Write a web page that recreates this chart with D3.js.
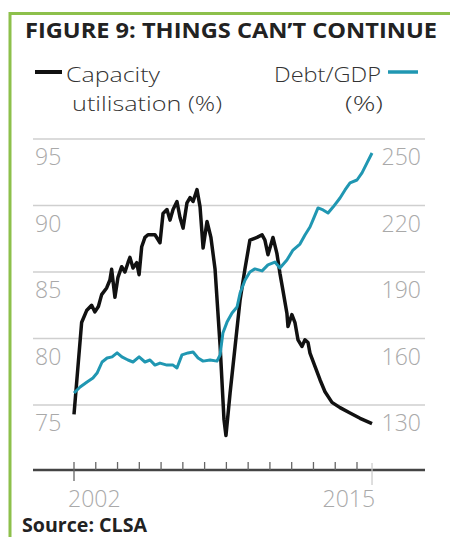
<!DOCTYPE html>
<html><head><meta charset="utf-8">
<script src="https://cdn.jsdelivr.net/npm/d3@7"></script>
<style>html,body{margin:0;padding:0;background:#fff;}svg{display:block;}</style>
</head><body>
<script>
// ---- data ----
const capDates = [2002.00,2002.35,2002.58,2002.81,2002.96,2003.12,2003.27,2003.50,2003.65,2003.73,2003.88,2004.02,2004.19,2004.34,2004.48,2004.57,2004.71,2004.88,2004.99,2005.11,2005.26,2005.40,2005.72,2005.95,2006.09,2006.27,2006.41,2006.55,2006.73,2006.87,2007.01,2007.19,2007.33,2007.47,2007.65,2007.79,2007.93,2008.11,2008.29,2008.48,2008.71,2008.89,2008.98,2009.17,2009.40,2009.63,2009.85,2010.08,2010.41,2010.64,2010.77,2010.91,2011.14,2011.32,2011.46,2011.60,2011.78,2011.83,2012.01,2012.15,2012.29,2012.47,2012.61,2012.75,2012.84,2013.07,2013.30,2013.53,2013.85,2014.22,2014.68,2015.14,2015.69];
const capValues = [74.3,81.2,82.1,82.5,82.0,82.4,83.3,83.8,84.4,85.2,83.1,84.6,85.4,85.0,85.7,86.1,85.3,85.7,84.8,86.9,87.6,87.8,87.8,87.2,89.4,89.7,88.9,89.7,90.3,89.1,88.3,90.2,90.6,90.3,91.2,89.9,86.8,88.8,87.6,85.2,79.5,73.9,72.7,75.9,79.4,82.9,85.2,87.4,87.6,87.8,87.4,86.3,87.6,86.4,84.9,83.6,81.9,80.9,81.8,81.2,79.9,79.4,79.9,79.7,78.9,77.9,76.9,76.0,75.2,74.8,74.4,74.0,73.6];
const debtDates = [2002.00,2002.28,2002.60,2002.87,2003.06,2003.29,2003.52,2003.75,2003.98,2004.20,2004.48,2004.71,2004.99,2005.26,2005.49,2005.72,2005.95,2006.27,2006.55,2006.73,2006.96,2007.24,2007.47,2007.70,2007.93,2008.25,2008.57,2008.71,2008.84,2009.03,2009.26,2009.49,2009.63,2009.86,2010.08,2010.31,2010.64,2010.91,2011.23,2011.46,2011.78,2012.06,2012.38,2012.61,2012.84,2012.98,2013.21,2013.44,2013.67,2013.90,2014.22,2014.45,2014.68,2015.00,2015.23,2015.46,2015.69];
const debtValues = [135.4,138.1,140.4,142.2,144.4,149.4,151.2,151.7,153.5,151.7,150.3,149.4,151.7,149.4,150.3,148.0,148.9,148.0,148.0,146.7,152.6,153.5,153.9,151.2,149.8,150.3,149.8,152.6,162.5,167.4,171.5,174.2,180.5,186.4,190.0,191.4,190.5,193.2,194.5,191.8,195.4,199.9,202.6,206.7,210.3,213.5,218.9,218.0,216.6,219.3,223.4,227.0,230.2,231.5,234.7,239.2,243.7];
const leftTicks = [75, 80, 85, 90, 95];
const rightTicks = [130, 160, 190, 220, 250];
const yearTicks = d3.range(2002, 2016);
const xLabels = ["2002", "2015"];
const title = "FIGURE 9: THINGS CAN\u2019T CONTINUE";
const source = "Source: CLSA";

// ---- layout ----
const W = 450, H = 537;
const svg = d3.select("body").append("svg").attr("width", W).attr("height", H);
const green = "#8dc04b", blue = "#2097b2";

const x = d3.scaleLinear().domain([2002, 2015]).range([74, 357]);
const yL = d3.scaleLinear().domain([75, 95]).range([405, 139]);
const yR = d3.scaleLinear().domain([130, 250]).range([405, 139]);

// frame
svg.append("line").attr("x1", 9).attr("x2", W).attr("y1", 13.5).attr("y2", 13.5).attr("stroke", green).attr("stroke-width", 3);
svg.append("line").attr("x1", 10).attr("x2", 10).attr("y1", 12).attr("y2", H).attr("stroke", green).attr("stroke-width", 3);

// title
svg.append("text").attr("x", 25).attr("y", 38).text(title)
  .attr("font-family", "Open Sans, sans-serif").attr("font-weight", 700).attr("font-size", 22)
  .attr("fill", "#222").attr("textLength", 412).attr("lengthAdjust", "spacingAndGlyphs");

// legend
const lf = "Open Sans, sans-serif";
const legendText = (tx, ty, s, len) => svg.append("text").attr("x", tx).attr("y", ty).text(s)
  .attr("font-family", lf).attr("font-weight", 300).attr("font-size", 21).attr("fill", "#333")
  .attr("textLength", len).attr("lengthAdjust", "spacingAndGlyphs");
svg.append("line").attr("x1", 35).attr("x2", 62).attr("y1", 72).attr("y2", 72).attr("stroke", "#111").attr("stroke-width", 4);
legendText(66, 82, "Capacity", 94);
legendText(72, 111, "utilisation (%)", 150);
legendText(274, 82, "Debt/GDP", 107);
legendText(345, 111, "(%)", 38);
svg.append("line").attr("x1", 388).attr("x2", 418).attr("y1", 72).attr("y2", 72).attr("stroke", blue).attr("stroke-width", 3.5);

// gridlines
svg.append("g").selectAll("line").data(leftTicks).join("line")
  .attr("x1", 33).attr("x2", 425).attr("y1", d => yL(d)).attr("y2", d => yL(d))
  .attr("stroke", "#cfcfcf").attr("stroke-width", 1.5);

// axis labels
svg.append("g").selectAll("text").data(leftTicks).join("text")
  .attr("x", 35).attr("y", d => yL(d) + 26).text(d => d)
  .attr("font-family", lf).attr("font-weight", 300).attr("font-size", 23).attr("fill", "#a9a9a9");
svg.append("g").selectAll("text").data(rightTicks).join("text")
  .attr("x", 421).attr("y", d => yR(d) + 26).attr("text-anchor", "end").text(d => d)
  .attr("font-family", lf).attr("font-weight", 300).attr("font-size", 23).attr("fill", "#a9a9a9");

// x axis
const endDate = capDates[capDates.length - 1];
svg.append("line").attr("x1", 33).attr("x2", 425).attr("y1", 470).attr("y2", 470).attr("stroke", "#444").attr("stroke-width", 2.5);
svg.append("g").selectAll("line").data(yearTicks).join("line")
  .attr("x1", d => x(d)).attr("x2", d => x(d)).attr("y1", 462).attr("y2", d => d === 2002 ? 481 : 470)
  .attr("stroke", "#666").attr("stroke-width", 1.3);
svg.append("line").attr("x1", x(endDate)).attr("x2", x(endDate)).attr("y1", 463).attr("y2", 485)
  .attr("stroke", "#c8c8c8").attr("stroke-width", 1.2);
svg.append("text").attr("x", x(2002) - 6).attr("y", 507).text(xLabels[0])
  .attr("font-family", lf).attr("font-weight", 300).attr("font-size", 23).attr("fill", "#a9a9a9");
svg.append("text").attr("x", x(endDate) + 3).attr("y", 507).attr("text-anchor", "end").text(xLabels[1])
  .attr("font-family", lf).attr("font-weight", 300).attr("font-size", 23).attr("fill", "#a9a9a9");

// series
const capData = capDates.map((d, i) => [d, capValues[i]]);
const debtData = debtDates.map((d, i) => [d, debtValues[i]]);
svg.append("path").datum(capData)
  .attr("d", d3.line().x(d => x(d[0])).y(d => yL(d[1])))
  .attr("fill", "none").attr("stroke", "#111").attr("stroke-width", 3.5).attr("stroke-linejoin", "round");
svg.append("path").datum(debtData)
  .attr("d", d3.line().x(d => x(d[0])).y(d => yR(d[1])))
  .attr("fill", "none").attr("stroke", blue).attr("stroke-width", 3).attr("stroke-linejoin", "round");

// source
svg.append("text").attr("x", 22).attr("y", 532).text(source)
  .attr("font-family", "Open Sans, sans-serif").attr("font-weight", 700).attr("font-size", 19)
  .attr("fill", "#222").attr("textLength", 125).attr("lengthAdjust", "spacingAndGlyphs");
</script>
</body></html>
